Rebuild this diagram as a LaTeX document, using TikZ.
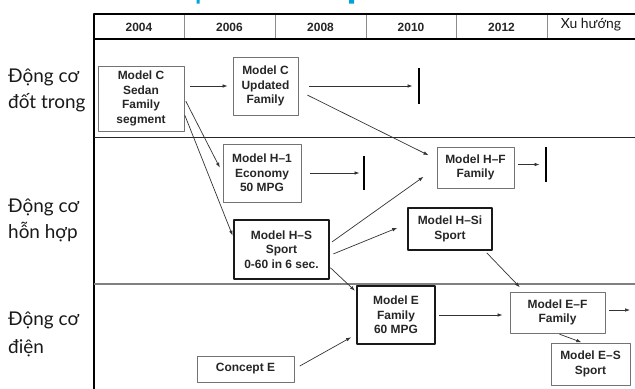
\documentclass[tikz,border=0pt]{standalone}
\usepackage{fontspec}
\setmainfont{Lato}
\newfontfamily\boxfont{Liberation Sans}
\usetikzlibrary{arrows.meta,calc,positioning}
\definecolor{titlecyan}{HTML}{00A3D9}
\tikzset{
  mbox/.style={draw=black!55, line width=0.9bp, fill=white, inner sep=0pt, align=center,
    font=\boxfont\bfseries\fontsize{12}{14.6}\selectfont, text=black!85},
  mboxd/.style={mbox, draw=black!90, line width=1.3bp},
  endbar/.style={fill=black, inner sep=0pt, minimum width=2.6bp},
  arr/.style={-{Latex[length=5bp,width=3.6bp]}, draw=black!80, line width=0.7bp},
  yearlbl/.style={inner sep=0pt, font=\boxfont\bfseries\fontsize{12}{14}\selectfont, text=black!85},
  lanelbl/.style={inner sep=0pt, align=left, font=\fontsize{19}{26}\selectfont, text=black!90}
}
\begin{document}
\begin{tikzpicture}[x=1bp,y=-1bp,line join=round]
\useasboundingbox (0,0) rectangle (635,388);
\fill[titlecyan] (196.5,0) rectangle (199.5,3.5) (349,0) rectangle (354,3.5); % cut title

% header row
\foreach \xd in {184,275,366,456,547}
  \draw[black!45, line width=0.9bp] (\xd,14) -- (\xd,39);
\foreach \yr/\xc in {2004/139,2006/229.5,2008/320.5,2010/411,2012/501.5}
  \node[yearlbl] (y\yr) at (\xc,27) {\yr};
\node[inner sep=0pt, font=\fontsize{14}{16}\selectfont, text=black!90] (trend) at (591,25) {Xu hướng};
\draw[line width=2.6bp] (645,14) -- (94,14) -- (94,39) -- (645,39);

% lanes
\draw[line width=1.6bp] (94,39) -- (94,392);
\draw[line width=1.6bp, black!85] (94,137.5) -- (645,137.5);
\draw[line width=1.4bp, black!50] (94,284) -- (645,284);
\node[lanelbl, anchor=base west] (ice) at (8,108) {Động cơ\\đốt trong};
\node[lanelbl, anchor=base west] (hyb) at (8,238) {Động cơ\\hỗn hợp};
\node[lanelbl, anchor=base west, font=\fontsize{19}{28}\selectfont] (elec) at (8,353) {Động cơ\\điện};

% models
\node[mbox, minimum width=86bp, minimum height=65bp] (sedan) at (141,98.5) {Model C\\Sedan\\Family\\segment};
\node[mbox, minimum width=65bp, minimum height=58bp] (updated) at (265.5,86) {Model C\\Updated\\Family};
\node[mbox, minimum width=78bp, minimum height=58bp] (h1) at (262,173) {Model H–1\\Economy\\50 MPG};
\node[mboxd, minimum width=95bp, minimum height=59bp] (hs) at (281.5,249.5) {Model H–S\\Sport\\0-60 in 6 sec.};
\node[mbox, minimum width=77bp, minimum height=41bp] (hf) at (475.5,167.5) {Model H–F\\Family};
\node[mboxd, minimum width=84bp, minimum height=42bp] (hsi) at (450,229) {Model H–Si\\Sport};
\node[mboxd, minimum width=78bp, minimum height=58bp] (e) at (396,315) {Model E\\Family\\60 MPG};
\node[mbox, minimum width=95bp, minimum height=41bp] (ef) at (557.5,312.5) {Model E–F\\Family};
\node[mbox, minimum width=79bp, minimum height=42bp] (es) at (590.5,364) {Model E–S\\Sport};
\node[mbox, minimum width=97bp, minimum height=26bp] (concept) at (245.5,369) {Concept E};

% end bars
\node[endbar, minimum height=36bp] (barC) at (419,86) {};
\node[endbar, minimum height=34bp] (barH1) at (364,173) {};
\node[endbar, minimum height=35bp] (barHF) at (546,164.5) {};
\coordinate (efout) at (630,310);

% connectors
\draw[arr, shorten <=6bp, shorten >=5bp] (sedan.east |- updated.west) -- (updated.west);
\draw[arr, shorten <=11bp, shorten >=5bp] (barC.west -| updated.east) -- (barC.west);
\draw[arr, shorten <=3bp, shorten >=6bp] (sedan.east) -- (h1.west);
\draw[arr, shorten <=1bp, shorten >=2bp] (sedan.-20) -- (hs.166);
\draw[arr, shorten <=10bp, shorten >=9bp] (updated.-8) -- (hf.168);
\draw[arr, shorten <=9bp, shorten >=3bp] (barH1.west -| h1.east) -- (barH1.west);
\draw[arr, shorten <=4bp, shorten >=5bp] (barHF.west -| hf.east) -- (barHF.west);
\draw[arr, shorten <=3bp, shorten >=16bp] (hs.7) -- (hf.west);
\draw[arr, shorten <=4bp, shorten >=11bp] (hs.-7) -- (hsi.173);
\draw[arr, shorten <=1bp, shorten >=2bp] (hs.-20) -- (e.150);
\draw[arr, shorten <=3bp, shorten >=6bp] (hsi.-32) -- (ef.148);
\draw[arr, shorten <=3bp, shorten >=7bp] (e.east) -- (e.east -| ef.west);
\draw[arr, shorten <=4bp] (ef.east |- efout) -- (efout);
\draw[arr, shorten <=2bp, shorten >=1bp] (ef.south) -- (es.111);
\draw[arr, shorten <=6bp, shorten >=6bp] (concept.east) -- (e.-154);
\end{tikzpicture}
\end{document}
